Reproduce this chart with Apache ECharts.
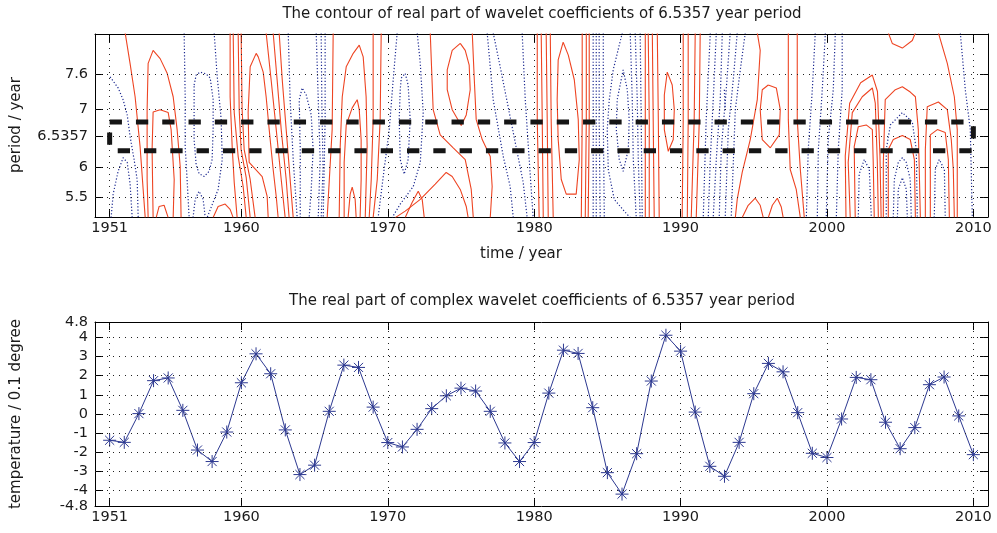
<!DOCTYPE html>
<html>
<head>
<meta charset="utf-8">
<script src="https://cdn.jsdelivr.net/npm/echarts@6/dist/echarts.min.js"></script>
<style>
html,body{margin:0;padding:0;background:#fff;}
#chart{width:997px;height:533px;}
</style>
</head>
<body>
<div id="chart"></div>
<script>
// ---- data ----
const years = [1951,1952,1953,1954,1955,1956,1957,1958,1959,1960,
  1961,1962,1963,1964,1965,1966,1967,1968,1969,1970,
  1971,1972,1973,1974,1975,1976,1977,1978,1979,1980,
  1981,1982,1983,1984,1985,1986,1987,1988,1989,1990,
  1991,1992,1993,1994,1995,1996,1997,1998,1999,2000,
  2001,2002,2003,2004,2005,2006,2007,2008,2009,2010];

// real part of the wavelet coefficients at the 6.5357-year period (0.1 degree)
const realPart = [-1.37,-1.48,0.02,1.74,1.88,0.19,-1.88,-2.48,-0.94,1.63,
  3.14,2.10,-0.83,-3.16,-2.67,0.14,2.55,2.43,0.36,-1.49,
  -1.72,-0.80,0.28,0.95,1.35,1.20,0.14,-1.51,-2.48,-1.49,
  1.09,3.33,3.16,0.33,-3.06,-4.18,-2.07,1.72,4.11,3.28,
  0.10,-2.73,-3.25,-1.48,1.06,2.64,2.20,0.07,-2.05,-2.27,
  -0.26,1.91,1.79,-0.43,-1.81,-0.71,1.53,1.93,-0.10,-2.12];

const yearTicks = [1951,1960,1970,1980,1990,2000,2010];
const periodTicks = [5.5,6,6.5357,7,7.6];
const temperatureTicks = [-4.8,-4,-3,-2,-1,0,1,2,3,4,4.8];
const bandEdges = [6.29, 6.78];      // period band around 6.5357 years
const bandYears = [1951, 2010];

// contour lines of the real part, as [year, period] points
const positiveContours = [
  [[1952.06,8.3],[1952.40,7.77],[1952.74,7.21],[1953.08,6.36],[1953.29,5.63],[1953.43,5.15]],
  [[1953.63,5.15],[1953.56,5.8],[1953.56,6.99],[1953.63,7.78],[1953.97,8.0],[1954.45,7.86],[1954.93,7.61],[1955.34,7.21],[1955.61,6.65],[1955.82,6.02],[1955.88,5.15]],
  [[1953.97,5.15],[1953.90,6.31],[1953.97,6.95],[1954.45,6.99],[1955.00,6.94],[1955.20,6.65],[1955.41,5.8],[1955.34,5.15]],
  [[1954.18,5.15],[1954.38,5.34],[1954.72,5.36],[1955.0,5.15]],
  [[1958.07,5.15],[1958.41,5.34],[1958.89,5.38],[1959.23,5.29],[1959.44,5.15]],
  [[1959.23,8.3],[1959.23,7.21],[1959.37,6.36],[1959.51,5.75],[1959.71,5.15]],
  [[1959.44,8.3],[1959.51,6.94],[1959.78,6.19],[1960.12,5.68],[1960.33,5.15]],
  [[1959.78,8.3],[1959.85,6.99],[1959.98,6.31],[1960.33,5.83],[1960.60,5.15]],
  [[1959.98,8.3],[1960.05,6.99],[1960.19,6.31],[1960.60,5.8],[1960.94,5.15]],
  [[1961.83,5.15],[1961.76,5.51],[1961.42,5.85],[1960.53,6.09],[1960.46,6.94],[1960.60,7.72],[1961.01,7.95],[1961.15,7.89],[1961.49,7.63],[1961.69,7.21],[1961.90,6.65],[1962.17,5.97],[1962.38,5.51],[1962.51,5.15]],
  [[1961.69,8.3],[1962.03,7.5],[1962.38,6.65],[1962.72,5.8],[1962.99,5.15]],
  [[1962.17,8.3],[1962.44,7.5],[1962.72,6.65],[1963.06,5.8],[1963.26,5.15]],
  [[1962.58,8.3],[1962.79,7.5],[1963.06,6.65],[1963.33,5.8],[1963.54,5.15]],
  [[1966.27,8.3],[1966.20,6.65],[1965.86,5.15]],
  [[1966.68,5.15],[1966.75,6.36],[1966.89,7.21],[1967.16,7.72],[1967.64,7.95],[1968.05,8.09],[1968.32,7.89],[1968.52,7.21],[1968.59,6.36],[1968.46,5.15]],
  [[1967.02,5.15],[1967.02,6.09],[1967.16,6.73],[1967.57,7.02],[1967.91,7.16],[1968.05,6.99],[1968.18,6.48],[1968.18,5.8],[1968.11,5.15]],
  [[1967.29,5.15],[1967.43,5.55],[1967.57,5.67],[1967.77,5.46],[1967.84,5.15]],
  [[1969.0,8.3],[1969.0,6.82],[1968.87,5.8],[1968.73,5.15]],
  [[1969.55,8.3],[1969.48,6.82],[1969.28,5.8],[1969.0,5.15]],
  [[1972.90,8.3],[1973.03,7.45],[1973.10,6.99],[1973.58,6.56],[1974.47,6.34],[1975.29,6.14],[1975.70,5.63],[1975.84,5.15]],
  [[1974.95,8.12],[1974.40,8.0],[1974.06,7.67],[1974.06,7.33],[1974.40,6.99],[1975.02,6.72],[1975.36,6.9],[1975.63,7.33],[1975.56,7.75],[1975.29,8.0],[1974.95,8.12]],
  [[1975.77,8.3],[1975.91,7.5],[1976.04,6.82],[1976.45,6.48],[1977.0,6.19],[1977.13,5.68],[1977.0,5.15]],
  [[1970.51,5.15],[1971.19,5.26],[1972.22,5.46],[1973.24,5.72],[1973.99,5.92],[1974.40,5.85],[1974.95,5.63],[1975.36,5.34],[1975.49,5.15]],
  [[1971.19,5.15],[1971.67,5.41],[1972.08,5.6],[1972.35,5.46],[1972.49,5.15]],
  [[1980.21,8.3],[1980.21,6.82],[1980.34,5.15]],
  [[1980.48,8.3],[1980.55,6.82],[1980.62,5.15]],
  [[1980.82,8.3],[1980.89,6.82],[1980.96,5.15]],
  [[1981.10,8.3],[1981.16,6.82],[1981.30,5.15]],
  [[1981.98,8.14],[1981.64,7.84],[1981.57,7.16],[1981.64,6.48],[1981.85,5.8],[1982.19,5.55],[1982.87,5.55],[1983.08,6.14],[1983.01,6.82],[1982.74,7.5],[1982.33,7.92],[1981.98,8.14]],
  [[1983.28,8.3],[1983.28,6.82],[1983.22,5.15]],
  [[1983.56,8.3],[1983.56,6.82],[1983.49,5.15]],
  [[1983.76,8.3],[1983.76,6.82],[1983.69,5.15]],
  [[1987.59,8.3],[1987.59,6.82],[1987.59,5.15]],
  [[1987.79,8.3],[1987.86,6.82],[1987.86,5.15]],
  [[1988.07,8.3],[1988.13,6.82],[1988.20,5.15]],
  [[1988.41,8.3],[1988.48,6.82],[1988.54,5.15]],
  [[1989.09,7.63],[1989.43,7.41],[1989.57,6.99],[1989.50,6.48],[1989.16,6.28],[1988.89,6.65],[1988.89,7.24],[1989.09,7.63]],
  [[1990.18,8.3],[1990.18,6.82],[1990.11,5.15]],
  [[1990.52,8.3],[1990.52,6.82],[1990.46,5.15]],
  [[1991.0,8.3],[1990.93,6.82],[1990.73,5.15]],
  [[1991.34,8.3],[1991.28,6.82],[1991.07,5.15]],
  [[1995.24,8.3],[1995.44,8.0],[1995.24,7.16],[1994.76,6.48],[1994.21,5.92],[1993.87,5.46],[1993.74,5.15]],
  [[1995.99,7.41],[1996.54,7.36],[1996.81,6.99],[1996.74,6.56],[1996.13,6.34],[1995.58,6.48],[1995.44,6.99],[1995.58,7.33],[1995.99,7.41]],
  [[1997.36,8.3],[1997.36,6.82],[1997.49,5.97],[1997.90,5.63],[1998.18,5.15]],
  [[1997.97,8.3],[1997.97,6.82],[1998.18,5.97],[1998.45,5.15]],
  [[1994.21,5.15],[1994.62,5.36],[1995.10,5.48],[1995.44,5.36],[1995.65,5.15]],
  [[1995.99,5.15],[1996.27,5.36],[1996.61,5.48],[1996.88,5.33],[1997.01,5.15]],
  [[2001.30,5.15],[2001.25,6.2],[2001.55,7.1],[2002.30,7.45],[2003.10,7.58],[2003.45,7.3],[2003.62,6.2],[2003.70,5.15]],
  [[2001.59,5.15],[2001.45,6.09],[2001.73,6.94],[2002.41,7.21],[2003.10,7.36],[2003.30,7.1],[2003.44,6.09],[2003.51,5.15]],
  [[2001.93,5.15],[2001.86,6.36],[2002.14,6.7],[2002.68,6.73],[2003.10,6.65],[2003.16,6.09],[2003.23,5.15]],
  [[2003.85,5.15],[2003.85,6.09],[2003.98,7.16],[2004.67,7.33],[2005.15,7.38],[2005.69,7.29],[2006.04,7.21],[2006.24,6.65],[2006.38,5.15]],
  [[2004.19,5.15],[2004.19,6.31],[2004.53,6.48],[2005.15,6.55],[2005.69,6.48],[2005.97,6.14],[2006.04,5.15]],
  [[2004.19,8.3],[2004.46,8.12],[2005.15,8.04],[2005.83,8.17],[2006.04,8.3]],
  [[2007.61,8.3],[2008.22,7.78],[2008.70,7.21],[2008.90,6.65],[2008.90,5.15]],
  [[2006.72,5.15],[2006.72,6.31],[2006.85,7.04],[2007.61,7.12],[2008.22,6.99],[2008.49,6.48],[2008.63,5.97],[2008.70,5.15]],
  [[2007.06,5.15],[2007.06,6.56],[2007.54,6.65],[2008.08,6.6],[2008.29,6.14],[2008.36,5.15]]
];

const negativeContours = [
  [[1951.03,7.55],[1951.58,7.36],[1951.92,7.16],[1952.20,6.9],[1952.40,6.53],[1952.67,6.14],[1952.88,5.8],[1952.95,5.15]],
  [[1951.10,5.15],[1951.24,5.55],[1951.58,5.94],[1951.92,6.17],[1952.20,6.09],[1952.40,5.72],[1952.54,5.15]],
  [[1956.09,8.3],[1956.16,7.21],[1956.16,6.36],[1956.29,5.8],[1956.43,5.15]],
  [[1956.70,5.15],[1956.84,5.46],[1957.11,5.6],[1957.39,5.46],[1957.53,5.15]],
  [[1956.77,7.41],[1956.91,7.58],[1957.18,7.63],[1957.59,7.6],[1957.87,7.53],[1958.07,7.16],[1958.07,6.65],[1958.0,6.14],[1957.80,5.94],[1957.46,5.85],[1957.11,5.9],[1956.91,6.05],[1956.77,6.48],[1956.77,6.99],[1956.77,7.41]],
  [[1958.14,8.3],[1958.34,7.58],[1958.62,6.82],[1958.69,6.14],[1958.41,5.63],[1957.66,5.15]],
  [[1963.20,8.3],[1963.33,7.16],[1963.54,6.14],[1963.81,5.15]],
  [[1964.02,5.15],[1964.02,6.31],[1963.95,7.16],[1964.15,7.36],[1964.43,7.24],[1964.77,6.9],[1964.90,6.31],[1964.77,5.63],[1964.63,5.15]],
  [[1965.11,8.3],[1965.25,7.16],[1965.38,6.14],[1965.25,5.15]],
  [[1965.45,8.3],[1965.50,7.0],[1965.58,6.0],[1965.45,5.15]],
  [[1965.72,8.3],[1965.72,6.82],[1965.59,5.15]],
  [[1970.64,8.3],[1970.37,7.5],[1970.10,6.65],[1969.75,5.97],[1969.34,5.15]],
  [[1970.92,7.53],[1971.19,7.61],[1971.39,7.41],[1971.53,6.82],[1971.39,6.14],[1971.12,5.89],[1970.85,6.14],[1970.78,6.82],[1970.85,7.33],[1970.92,7.53]],
  [[1972.01,8.3],[1972.22,7.78],[1972.42,6.94],[1972.22,6.09],[1971.74,5.68],[1970.85,5.38],[1970.30,5.15]],
  [[1976.79,8.3],[1977.20,7.16],[1977.89,6.19],[1978.36,5.68],[1978.57,5.15]],
  [[1977.20,8.3],[1977.68,7.72],[1978.57,6.6],[1979.25,5.75],[1979.52,5.15]],
  [[1979.18,8.3],[1979.39,7.16],[1979.66,6.14],[1979.93,5.15]],
  [[1984.03,8.3],[1984.03,6.82],[1984.03,5.15]],
  [[1984.24,8.3],[1984.24,6.82],[1984.24,5.15]],
  [[1984.44,8.3],[1984.44,6.82],[1984.51,5.15]],
  [[1984.72,8.3],[1984.72,6.82],[1984.79,5.15]],
  [[1986.02,8.3],[1985.40,7.67],[1985.13,7.16],[1984.99,6.65],[1985.06,5.97],[1985.47,5.46],[1986.22,5.24],[1986.56,5.15]],
  [[1986.08,7.67],[1985.67,7.16],[1985.61,6.65],[1985.81,6.14],[1986.08,5.94],[1986.43,6.31],[1986.49,6.82],[1986.36,7.33],[1986.08,7.67]],
  [[1986.56,8.3],[1986.70,7.16],[1986.77,6.14],[1986.97,5.15]],
  [[1986.90,8.3],[1987.04,7.16],[1987.11,6.14],[1987.24,5.15]],
  [[1987.24,8.3],[1987.31,6.82],[1987.38,5.15]],
  [[1992.03,8.3],[1991.75,6.82],[1991.55,5.15]],
  [[1992.44,8.3],[1992.23,7.16],[1992.03,6.14],[1991.89,5.15]],
  [[1992.85,8.3],[1992.71,7.16],[1992.44,6.14],[1992.23,5.15]],
  [[1993.39,8.3],[1993.12,7.33],[1992.78,6.31],[1992.64,5.15]],
  [[1993.87,8.3],[1993.60,7.5],[1993.26,6.65],[1993.05,5.15]],
  [[1994.42,8.3],[1994.08,7.67],[1993.74,6.99],[1993.46,5.15]],
  [[1992.99,7.33],[1993.05,6.99]],
  [[1999.20,8.3],[1999.0,7.33],[1998.72,6.31],[1998.59,5.15]],
  [[1999.89,8.3],[1999.68,7.33],[1999.41,6.31],[1999.34,5.15]],
  [[2000.57,8.3],[2000.43,7.33],[2000.09,6.48],[1999.95,5.15]],
  [[2001.04,8.3],[2001.04,7.33],[2000.77,6.31],[2000.64,5.15]],
  [[2004.05,5.15],[2004.05,6.31],[2004.33,6.73],[2005.15,6.94],[2005.83,6.78],[2006.10,6.31],[2006.17,5.15]],
  [[2004.53,5.15],[2004.60,5.8],[2004.87,6.09],[2005.15,6.17],[2005.42,6.09],[2005.69,5.8],[2005.76,5.15]],
  [[2004.81,5.15],[2004.87,5.63],[2005.15,5.83],[2005.42,5.63],[2005.49,5.15]],
  [[2002.14,5.15],[2002.20,5.89],[2002.55,6.14],[2002.89,5.97],[2003.03,5.15]],
  [[2007.33,5.15],[2007.40,5.97],[2007.67,6.14],[2008.02,5.97],[2008.08,5.15]],
  [[2009.11,8.3],[2009.45,7.33],[2009.79,6.65],[2009.93,5.15]]
];

// ---- styling ----
const FONT = '"DejaVu Sans", Verdana, sans-serif';
const INK = '#000';
const TEXT = '#1a1a1a';
const POS_COLOR = '#ee4523';
const NEG_COLOR = '#1b2890';
const LINE_COLOR = '#2d3991';
const GRID_DOTS = { type: [1, 5], color: '#222', width: 1 };
const TICK_FONT = 14.5;
const TITLE_FONT = 15;

const chart = echarts.init(document.getElementById('chart'), null, { renderer: 'canvas' });

function xAxisPair(gridIndex) {
  const common = {
    type: 'value', gridIndex, min: 1950, max: 2011,
    axisLine: { show: true, onZero: false, lineStyle: { color: INK, width: 1 } },
    splitLine: { show: false }
  };
  return [
    Object.assign({}, common, {
      position: 'bottom',
      axisTick: { show: true, inside: true, length: 8, customValues: yearTicks, lineStyle: { color: INK } },
      axisLabel: { show: true, customValues: yearTicks, fontFamily: FONT, fontSize: TICK_FONT, color: TEXT, margin: 4,
        formatter: v => String(v) }
    }),
    Object.assign({}, common, {
      position: 'top',
      axisTick: { show: true, inside: true, length: 8, customValues: yearTicks, lineStyle: { color: INK } },
      axisLabel: { show: false }
    })
  ];
}

function yAxisPair(gridIndex, min, max, ticks) {
  const common = {
    type: 'value', gridIndex, min, max,
    axisLine: { show: true, onZero: false, lineStyle: { color: INK, width: 1 } },
    splitLine: { show: false }
  };
  return [
    Object.assign({}, common, {
      position: 'left',
      axisTick: { show: true, inside: true, length: 8, customValues: ticks, lineStyle: { color: INK } },
      axisLabel: { show: true, customValues: ticks, fontFamily: FONT, fontSize: TICK_FONT, color: TEXT, margin: 7,
        formatter: v => String(v) }
    }),
    Object.assign({}, common, {
      position: 'right',
      axisTick: { show: true, inside: true, length: 8, customValues: ticks, lineStyle: { color: INK } },
      axisLabel: { show: false }
    })
  ];
}

function gridLineSeries(xi, yi, xs, ys) {
  return {
    type: 'line', xAxisIndex: xi, yAxisIndex: yi, data: [], silent: true, z: 1,
    markLine: {
      silent: true, symbol: 'none', animation: false, label: { show: false },
      lineStyle: GRID_DOTS,
      emphasis: { disabled: true },
      data: xs.map(v => ({ xAxis: v })).concat(ys.map(v => ({ yAxis: v })))
    }
  };
}

const series = [];
series.push(gridLineSeries(0, 0, yearTicks, periodTicks));
series.push(gridLineSeries(2, 2, yearTicks, temperatureTicks.filter(v => Math.abs(v) < 4.8)));

positiveContours.forEach(c => series.push({
  type: 'line', xAxisIndex: 0, yAxisIndex: 0, data: c, symbol: 'none', silent: true, z: 3,
  lineStyle: { color: POS_COLOR, width: 1.1 }, animation: false
}));
negativeContours.forEach(c => series.push({
  type: 'line', xAxisIndex: 0, yAxisIndex: 0, data: c, symbol: 'none', silent: true, z: 3,
  lineStyle: { color: NEG_COLOR, width: 1.2, type: [1.2, 2] }, animation: false
}));

// dashed rectangle marking the 6.5357-year band
series.push({
  type: 'line', xAxisIndex: 0, yAxisIndex: 0, symbol: 'none', silent: true, z: 5, animation: false,
  data: [[bandYears[0], bandEdges[1]], [bandYears[1], bandEdges[1]], [bandYears[1], bandEdges[0]],
         [bandYears[0], bandEdges[0]], [bandYears[0], bandEdges[1]]],
  lineStyle: { color: '#151515', width: 5, type: [12.3, 14], cap: 'butt' }
});

// time series of the real part
series.push({
  type: 'line', xAxisIndex: 2, yAxisIndex: 2, z: 4, animation: false, silent: true,
  data: years.map((y, i) => [y, realPart[i]]),
  symbol: 'path://M5,0L5,10M0,5L10,5M1.5,1.5L8.5,8.5M1.5,8.5L8.5,1.5',
  symbolSize: 13, showAllSymbol: true,
  itemStyle: { color: 'rgba(0,0,0,0)', borderColor: LINE_COLOR, borderWidth: 1 },
  lineStyle: { color: LINE_COLOR, width: 1 }
});

const xa = xAxisPair(0).concat(xAxisPair(1));
const ya = yAxisPair(0, 5.16, 8.28, periodTicks).concat(yAxisPair(1, -4.8, 4.8, temperatureTicks));

function label(text, x, y, rotate) {
  return {
    type: 'text', x, y, rotation: rotate ? Math.PI / 2 : 0, silent: true,
    style: { text, fill: TEXT, font: TITLE_FONT + 'px ' + FONT, textAlign: 'center', textVerticalAlign: 'middle' }
  };
}

chart.setOption({
  animation: false,
  backgroundColor: '#fff',
  grid: [
    { left: 95, top: 34, width: 893, height: 183, containLabel: false },
    { left: 95, top: 322, width: 893, height: 184, containLabel: false }
  ],
  xAxis: xa,
  yAxis: ya,
  series,
  graphic: [
    label('The contour of real part of wavelet coefficients of 6.5357 year period', 542, 14),
    label('time / year', 521, 254),
    label('period / year', 16, 125, true),
    label('The real part of complex wavelet coefficients of 6.5357 year period', 542, 301),
    label('temperature / 0.1 degree', 16, 414, true)
  ]
});
</script>
</body>
</html>
